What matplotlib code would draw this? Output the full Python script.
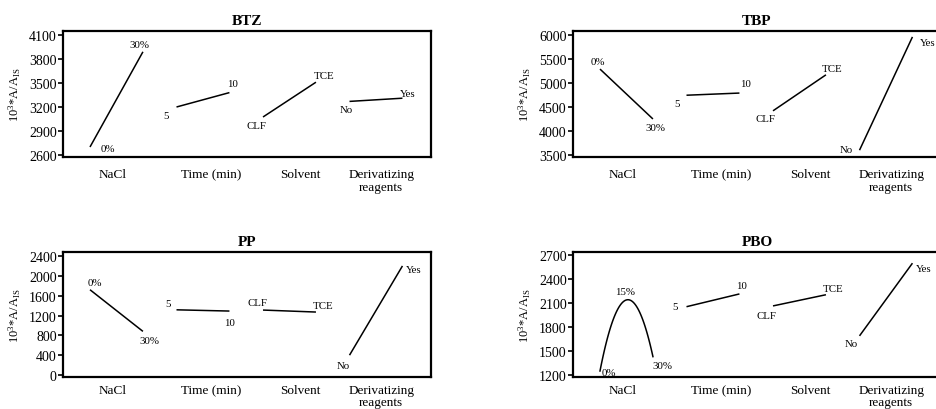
import numpy as np
import matplotlib
matplotlib.use("Agg")
import matplotlib.pyplot as plt

plt.rcParams["font.family"] = ["Liberation Serif", "DejaVu Serif"]
plt.rcParams["mathtext.fontset"] = "custom"
plt.rcParams["mathtext.rm"] = "Liberation Serif"
plt.rcParams["mathtext.it"] = "Liberation Serif:italic"

# Factors and their levels
factors = ["NaCl", "Time (min)", "Solvent", "Derivatizing\nreagents"]
levels = [["0%", "30%"], ["5", "10"], ["CLF", "TCE"], ["No", "Yes"]]
pbo_nacl_levels = ["0%", "15%", "30%"]

# Mean responses (10^3 * A / A_IS) at each level
btz_values = [[2700, 3890], [3200, 3380], [3075, 3510], [3270, 3310]]
tbp_values = [[5290, 4250], [4745, 4790], [4420, 5170], [3600, 5960]]
pp_values = [[1720, 880], [1315, 1290], [1310, 1270], [400, 2200]]
pbo_values = [[1250, 2140, 1430], [2055, 2215], [2065, 2205], [1690, 2600]]

# Y-axis ticks
btz_ticks = [2600, 2900, 3200, 3500, 3800, 4100]
tbp_ticks = [3500, 4000, 4500, 5000, 5500, 6000]
pp_ticks = [0, 400, 800, 1200, 1600, 2000, 2400]
pbo_ticks = [1200, 1500, 1800, 2100, 2400, 2700]

# Layout (figure fractions) and per-panel limits / label offsets (pixels)
W, H = 937, 410
col_left = [63 / W, 573 / W]
ax_w = 368 / W
rows = [((H - 158) / H, 126 / H), ((H - 378) / H, 125 / H)]
row_pad = [8, 5]
half_width = 0.306
xlim = (-0.618, 3.636)
cat_pos = [-0.05, 1.09, 2.12, 3.06]

panels = [
    dict(title="BTZ", values=btz_values, ticks=btz_ticks, ylim=(2575, 4150),
         col=0, row=0,
         offsets=[[(18, -2), (-3, 7)], [(-10, -9), (3, 9)],
                  [(-7, -9), (8, 7)], [(-3, -8), (5, 5)]]),
    dict(title="TBP", values=tbp_values, ticks=tbp_ticks, ylim=(3458, 6083),
         col=1, row=0,
         offsets=[[(-2, 8), (3, -9)], [(-9, -8), (6, 10)],
                  [(-8, -8), (6, 6)], [(-13, 1), (15, -6)]]),
    dict(title="PP", values=pp_values, ticks=pp_ticks, ylim=(-40, 2481),
         col=0, row=1,
         offsets=[[(5, 7), (7, -9)], [(-8, 6), (0, -11)],
                  [(-6, 8), (7, 7)], [(-6, -10), (11, -4)]]),
    dict(title="PBO", values=pbo_values, ticks=pbo_ticks, ylim=(1175, 2740),
         col=1, row=1,
         offsets=[[(9, -1), (-1, 8), (10, -9)], [(-11, 0), (2, 8)],
                  [(-7, -10), (7, 6)], [(-8, -8), (11, -5)]]),
]

fig = plt.figure(figsize=(W / 100, H / 100), dpi=100)

for p in panels:
    y0, h = rows[p["row"]]
    ax = fig.add_axes([col_left[p["col"]], y0, ax_w, h])
    for i, vals in enumerate(p["values"]):
        labs = levels[i] if len(vals) == 2 else pbo_nacl_levels
        xs = np.linspace(i - half_width, i + half_width, len(vals))
        if len(vals) == 2:
            ax.plot(xs, vals, color="black", lw=1.1, solid_capstyle="butt")
        else:
            coef = np.polyfit(xs, vals, 2)
            xf = np.linspace(xs[0], xs[-1], 100)
            ax.plot(xf, np.polyval(coef, xf), color="black", lw=1.1)
        for x, v, lab, off in zip(xs, vals, labs, p["offsets"][i]):
            ax.annotate(lab, (x, v), xytext=off, textcoords="offset pixels",
                        ha="center", va="center", fontsize=7.8)
    ax.set_xlim(*xlim)
    ax.set_ylim(*p["ylim"])
    ax.set_yticks(p["ticks"])
    ax.set_xticks(cat_pos)
    ax.set_xticklabels(factors, fontsize=9.5, linespacing=1.05)
    ax.tick_params(axis="x", length=0, pad=row_pad[p["row"]])
    ax.tick_params(axis="y", direction="out", length=3.5, width=1.2,
                   labelsize=10, pad=1)
    for s in ax.spines.values():
        s.set_linewidth(1.6)
    ax.set_title(p["title"], fontsize=11, fontweight="bold", pad=5)
    ax.set_ylabel(r"10$^3$*A/A$_{\mathrm{IS}}$", fontsize=9)
    ax.yaxis.set_label_coords(-0.108, 0.5)

fig.savefig("out.png", dpi=100, facecolor="white")
